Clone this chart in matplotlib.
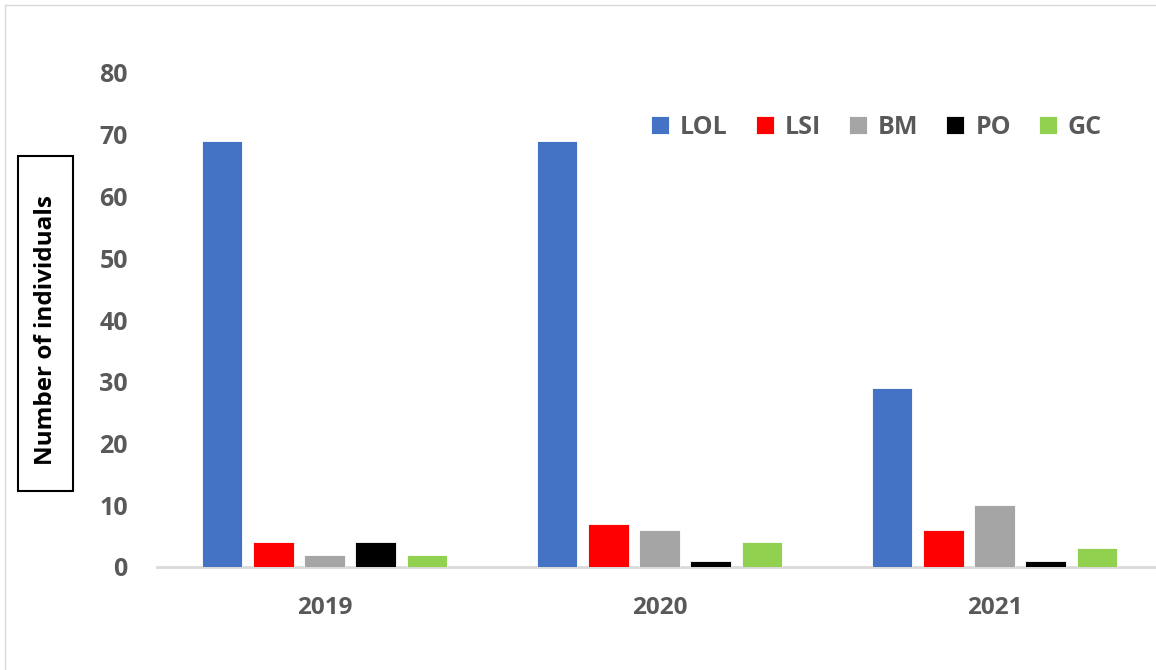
import matplotlib
matplotlib.use("Agg")
import matplotlib.pyplot as plt
from matplotlib.lines import Line2D
from matplotlib.patches import Rectangle
import numpy as np

years = ["2019", "2020", "2021"]
series = ["LOL", "LSI", "BM", "PO", "GC"]
values = {
    "LOL": [69, 69, 29],
    "LSI": [4, 7, 6],
    "BM": [2, 6, 10],
    "PO": [4, 1, 1],
    "GC": [2, 4, 3],
}
colors = {"LOL": "#4472C4", "LSI": "#FF0000", "BM": "#A5A5A5", "PO": "#000000", "GC": "#92D050"}
yticks = [0, 10, 20, 30, 40, 50, 60, 70, 80]

FONT = "Open Sans"
W, H = 1156, 670
fig = plt.figure(figsize=(W / 100, H / 100), dpi=100)
ax = fig.add_axes([157 / W, 1 - 567 / H, (1162 - 157) / W, (567 - 73) / H])

x = np.arange(len(years))
step = 0.153
width = 0.121
for i, s in enumerate(series):
    ax.bar(x + (i - 2) * step, values[s], width=width, color=colors[s],
           edgecolor="white", linewidth=0.6, label=s, zorder=3)

ax.set_xlim(-0.5, 2.5)
ax.set_ylim(0, 80)
ax.set_yticks(yticks)
ax.set_xticks(x)
ax.set_xticklabels(years)
for sp in ["top", "right", "left"]:
    ax.spines[sp].set_visible(False)
ax.spines["bottom"].set_color("#D9D9D9")
ax.spines["bottom"].set_linewidth(2)
ax.tick_params(axis="both", length=0, colors="#595959")
ax.tick_params(axis="y", pad=21)
ax.tick_params(axis="x", pad=21)
for lab in ax.get_yticklabels():
    lab.set_fontfamily(FONT)
    lab.set_fontweight("bold")
    lab.set_fontsize(18)
for lab in ax.get_xticklabels():
    lab.set_fontfamily(FONT)
    lab.set_fontweight("bold")
    lab.set_fontsize(17.5)

leg = ax.legend(loc="center right", bbox_to_anchor=(1102 / W, 1 - 127 / H),
                bbox_transform=fig.transFigure, ncol=5, frameon=False,
                handlelength=0.72, handleheight=0.72, handletextpad=0.44,
                columnspacing=1.12, borderaxespad=0, borderpad=0,
                prop={"family": FONT, "weight": "bold", "size": 18})
for t in leg.get_texts():
    t.set_color("#595959")

fig.text(46 / W, 1 - 330 / H, "Number of individuals", rotation=90,
         ha="center", va="center", fontsize=17.5, fontweight="bold",
         fontfamily=FONT, color="black")
fig.patches.append(Rectangle((18 / W, 1 - 491 / H), 55 / W, 335 / H,
                             transform=fig.transFigure, fill=False,
                             edgecolor="black", linewidth=1.5))
fig.lines.append(Line2D([5 / W, 5 / W], [0, 1 - 5 / H], transform=fig.transFigure,
                        color="#D9D9D9", linewidth=1))
fig.lines.append(Line2D([5 / W, 1], [1 - 5 / H, 1 - 5 / H], transform=fig.transFigure,
                        color="#D9D9D9", linewidth=1))

fig.savefig("out.png", dpi=100, facecolor="white")
